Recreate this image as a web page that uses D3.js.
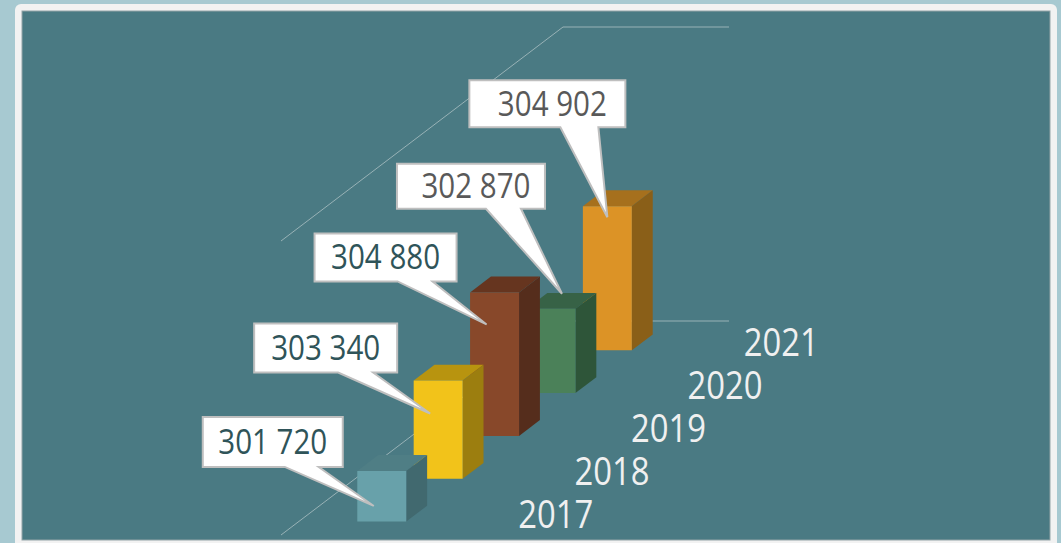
<!DOCTYPE html>
<html>
<head>
<meta charset="utf-8">
<script src="https://cdn.jsdelivr.net/npm/d3@7"></script>
<style>
  body { margin: 0; background: #a7c9d1; }
  svg { display: block; }
</style>
</head>
<body>
<div id="chart"></div>
<script>
// data
const years = ["2017", "2018", "2019", "2020", "2021"];
const values = [301720, 303340, 304880, 302870, 304902];
const valueLabels = ["301 720", "303 340", "304 880", "302 870", "304 902"];
const frontColors = ["#68a1aa", "#f2c31a", "#88482a", "#4b8159", "#dc9326"];
const topColors = ["#4f7e85", "#b8940f", "#66351f", "#376246", "#a6701d"];
const sideColors = ["#41696f", "#9c7e0f", "#552d1c", "#2e5539", "#8a5f18"];
const labelColors = ["#2f5459", "#2f5459", "#2f5459", "#595959", "#595959"];
const valueDomain = [300000, 310000];

// callout placement (hand placed in the original), relative to bar front top
const callouts = [
  { tx: -8, ty: 35, bx: -171, by: -89, w: 140, h: 50, ws: 82, ww: 34 },
  { tx: -8, ty: 33, bx: -176, by: -90, w: 143, h: 49, ws: 84, ww: 35 },
  { tx: -8, ty: 32, bx: -172, by: -91, w: 142, h: 48, ws: 83, ww: 35 },
  { tx: 11, ty: -15, bx: -165, by: -130, w: 148, h: 45, ws: 89, ww: 35 },
  { tx: 0, ty: 11, bx: -138, by: -137, w: 156, h: 47, ws: 91, ww: 38 }
];

const W = 1061, H = 543;
const svg = d3.select("#chart").append("svg").attr("width", W).attr("height", H);

// slide frame
svg.append("rect").attr("x", 15).attr("y", 4).attr("width", 1042).attr("height", 560)
  .attr("rx", 6).attr("fill", "#f2f2f2");
svg.append("rect").attr("x", 22).attr("y", 11).attr("width", 1028).attr("height", 529)
  .attr("fill", "#4a7a83").attr("stroke", "#93a4a7").attr("stroke-width", 1);

// oblique 3d projection
const origin = [281, 535];
const depthVec = [282, -214];
const catWidth = 166;
const wallHeight = 294;

const x = d3.scaleBand().domain(["all"]).range([0, catWidth]).paddingInner(0.705).paddingOuter(0.3525);
const z = d3.scaleBand().domain(years).range([0, 1]).paddingInner(0.63).paddingOuter(0.315);
const y = d3.scaleLinear().domain(valueDomain).range([0, wallHeight]);

const P = (px, pz, v) => [origin[0] + px + pz * depthVec[0], origin[1] + pz * depthVec[1] - y(v)];
const line = d3.line();

// gridlines: floor edge and top gridline along left & back walls
const grid = svg.append("g").attr("fill", "none").attr("stroke", "#98b2b6").attr("stroke-width", 1);
valueDomain.forEach(v => {
  grid.append("path").attr("d", line([P(0, 0, v), P(0, 1, v), P(catWidth, 1, v)]));
});

// bars, back to front
const x0 = x("all"), x1 = x0 + x.bandwidth();
const order = d3.range(years.length).reverse();
const bars = svg.append("g");
order.forEach(i => {
  const z0 = z(years[i]), z1 = z0 + z.bandwidth();
  const v0 = valueDomain[0], v1 = values[i];
  const g = bars.append("g");
  g.append("path").attr("fill", topColors[i])
    .attr("d", line([P(x0, z0, v1), P(x1, z0, v1), P(x1, z1, v1), P(x0, z1, v1)]) + "Z");
  g.append("path").attr("fill", sideColors[i])
    .attr("d", line([P(x1, z0, v0), P(x1, z1, v0), P(x1, z1, v1), P(x1, z0, v1)]) + "Z");
  g.append("path").attr("fill", frontColors[i])
    .attr("d", line([P(x0, z0, v0), P(x1, z0, v0), P(x1, z0, v1), P(x0, z0, v1)]) + "Z");
});

// year labels along the depth axis
svg.append("g").selectAll("text").data(years).join("text")
  .attr("x", d => P(catWidth, z(d) + z.bandwidth() / 2, valueDomain[0])[0] + 43)
  .attr("y", d => P(catWidth, z(d) + z.bandwidth() / 2, valueDomain[0])[1] + 14)
  .attr("fill", "#f0f0f0")
  .style("font", "38px 'Open Sans', sans-serif")
  .attr("textLength", 75).attr("lengthAdjust", "spacingAndGlyphs")
  .text(d => d);

// callouts
const cg = svg.append("g");
years.forEach((yr, i) => {
  const c = callouts[i];
  const top = P((x0 + x1) / 2, z(yr), values[i]);
  const tip = [top[0] + c.tx, top[1] + c.ty];
  const L = tip[0] + c.bx, T = tip[1] + c.by, R = L + c.w, B = T + c.h;
  const pts = [[L, T], [R, T], [R, B], [L + c.ws + c.ww, B], tip, [L + c.ws, B], [L, B]];
  cg.append("path").attr("d", line(pts) + "Z")
    .attr("fill", "#ffffff").attr("stroke", "#bfbfbf").attr("stroke-width", 2)
    .attr("stroke-linejoin", "miter");
  cg.append("text")
    .attr("x", (L + R) / 2 + (i > 2 ? 5 : 0))
    .attr("y", T + c.h / 2 + 12)
    .attr("text-anchor", "middle")
    .attr("fill", labelColors[i])
    .style("font", "35px 'Open Sans', sans-serif")
    .attr("textLength", 109).attr("lengthAdjust", "spacingAndGlyphs")
    .text(valueLabels[i]);
});
</script>
</body>
</html>
